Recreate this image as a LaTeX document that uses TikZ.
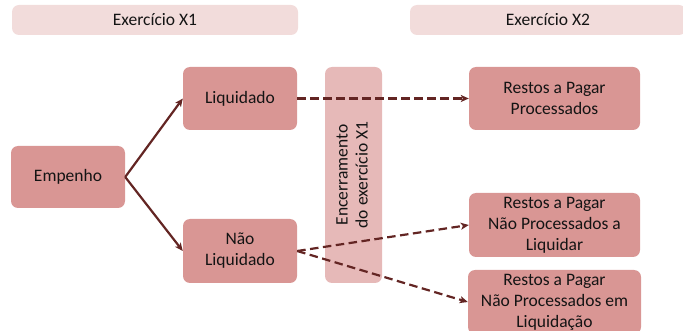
\documentclass[tikz,border=0pt]{standalone}
\usepackage{fontspec}
\setmainfont{Carlito}
\usetikzlibrary{arrows.meta}
\definecolor{boxfill}{HTML}{D99694}
\definecolor{barfill}{HTML}{E6B9B8}
\definecolor{headfill}{HTML}{F2DCDB}
\definecolor{linkcol}{HTML}{632523}
\definecolor{txt}{HTML}{141414}
\tikzset{
  base/.style={rectangle, rounded corners=7pt, inner sep=0pt, align=center,
    text=txt, font=\fontsize{17.5}{21}\selectfont},
  stagebox/.style={base, fill=boxfill, minimum width=#1},
  stagebox/.default=114pt,
  headbox/.style={base, fill=headfill, minimum height=30pt},
  closebar/.style={base, fill=barfill, minimum width=57pt, minimum height=216pt},
  solidlink/.style={draw=linkcol, line width=2.2pt, -{Stealth[length=8pt,width=7pt,inset=2pt]}},
  dashlink/.style={solidlink, dash pattern=on 8.5pt off 4.5pt},
}
\begin{document}
\begin{tikzpicture}[x=1pt, y=-1pt]
  \useasboundingbox (0,0) rectangle (683,331);
  \clip (0,0) rectangle (683,331);

  % period headers
  \node[headbox, minimum width=286pt] (hx1) at (155,20) {Exercício X1};
  \node[headbox, minimum width=276pt] (hx2) at (548,20) {Exercício X2};

  % year-end closing bar
  \node[closebar] (close) at (353.5,175)
    {\rotatebox{90}{\begin{tabular}{@{}c@{}}Encerramento\\[-1pt]do exercício X1\end{tabular}}};

  % stages within the year
  \node[stagebox, minimum height=62pt] (emp) at (68,177) {Empenho};
  \node[stagebox, minimum height=63pt] (liq) at (240,98.5) {Liquidado};
  \node[stagebox, minimum height=64pt] (nliq) at (240,251) {Não\\Liquidado};

  % carried over to the next year
  \node[stagebox=171pt, minimum height=63pt] (rpp) at (554.5,98.5) {Restos a Pagar\\Processados};
  \node[stagebox=171pt, minimum height=64pt] (rpnpa) at (554.5,225) {Restos a Pagar\\Não Processados a\\Liquidar};
  \node[stagebox=173pt, minimum height=64pt] (rpnpe) at (554.5,302) {Restos a Pagar\\Não Processados em\\Liquidação};

  % connectors
  \draw[solidlink] (emp.east) -- (liq.west);
  \draw[solidlink] (emp.east) -- (nliq.west);
  \draw[dashlink] (liq.east) -- (rpp.west);
  \draw[dashlink] (nliq.east) -- (rpnpa.west);
  \draw[dashlink] (nliq.east) -- (rpnpe.west);
\end{tikzpicture}
\end{document}
